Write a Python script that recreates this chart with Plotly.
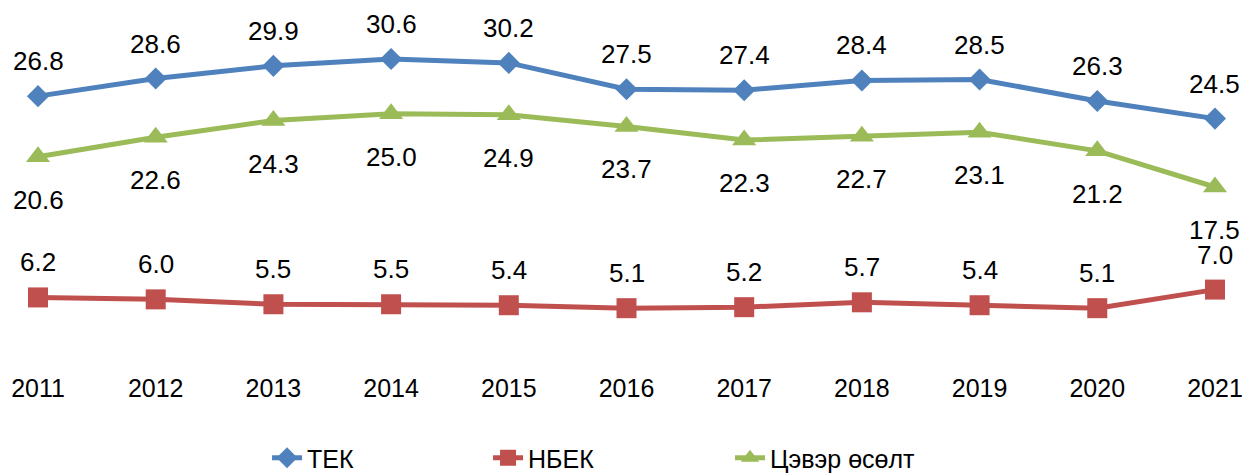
import plotly.graph_objects as go

YEARS = [2011, 2012, 2013, 2014, 2015, 2016, 2017, 2018, 2019, 2020, 2021]
TEK = [26.8, 28.6, 29.9, 30.6, 30.2, 27.5, 27.4, 28.4, 28.5, 26.3, 24.5]
NBEK = [6.2, 6.0, 5.5, 5.5, 5.4, 5.1, 5.2, 5.7, 5.4, 5.1, 7.0]
NET_GROWTH = [20.6, 22.6, 24.3, 25.0, 24.9, 23.7, 22.3, 22.7, 23.1, 21.2, 17.5]

FONT = "Liberation Sans, Arial, sans-serif"
BLUE = "#4F81BD"
RED = "#C0504D"
GREEN = "#9BBB59"

# name, values, colour, marker, marker size, label shift, legend id, legend x
series = [
    ("ТЕК", TEK, BLUE, "diamond", 17, 35, "legend", 0.2064),
    ("НБЕК", NBEK, RED, "square", 20, 35, "legend2", 0.3825),
    ("Цэвэр өсөлт", NET_GROWTH, GREEN, "triangle-up", 21, -43, "legend3", 0.5753),
]

fig = go.Figure()
annotations = []
legends = {}
for name, values, colour, symbol, msize, shift, leg, leg_x in series:
    fig.add_trace(go.Scatter(x=YEARS, y=values, name=name, legend=leg,
                             mode="lines+markers",
                             line=dict(color=colour, width=5),
                             marker=dict(symbol=symbol, size=msize, color=colour)))
    # labels sit well off the markers, like the excel original
    for x, v in zip(YEARS, values):
        annotations.append(dict(x=x, y=v, text=f"{v:.1f}", showarrow=False,
                                yshift=shift, font=dict(size=26, color="black")))
    legends[leg] = dict(orientation="h", x=leg_x, xanchor="left",
                        y=0.0486, yanchor="middle", yref="container",
                        font=dict(size=25), bgcolor="rgba(0,0,0,0)")

fig.update_layout(
    width=1255, height=473,
    margin=dict(l=0, r=0, t=8, b=123),
    paper_bgcolor="white", plot_bgcolor="white",
    font=dict(family=FONT, size=25, color="black"),
    annotations=annotations,
    showlegend=True,
    xaxis=dict(range=[2010.745, 2021.408], tickvals=YEARS, showgrid=False,
               zeroline=False, showline=False, ticks="outside", ticklen=8,
               tickcolor="rgba(0,0,0,0)", tickfont=dict(size=25)),
    yaxis=dict(range=[0, 35], visible=False, showgrid=False, zeroline=False),
    **legends,
)

fig.write_html("out.html")
